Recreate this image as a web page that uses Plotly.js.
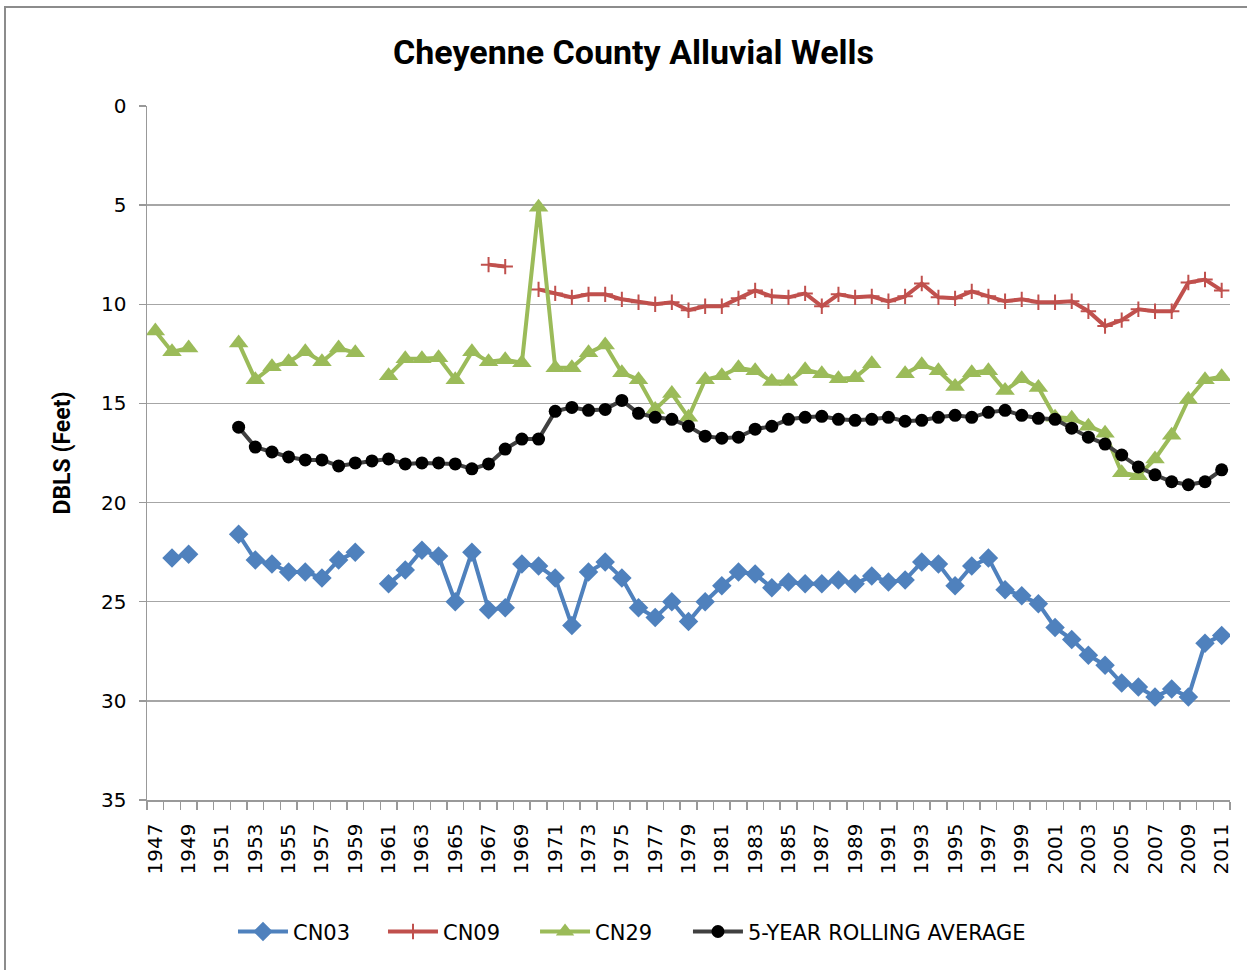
<!DOCTYPE html>
<html>
<head>
<meta charset="utf-8">
<script src="https://cdn.plot.ly/plotly-3.0.1.min.js"></script>
<style>
html,body{margin:0;padding:0;overflow:hidden;background:#fff;}
#wrap{position:relative;width:1247px;height:970px;}
#chart{position:absolute;left:0;top:0;width:1247px;height:970px;}
#frame{position:absolute;left:4px;top:6px;width:1270px;height:990px;border:2px solid #8c8c8c;pointer-events:none;}
</style>
</head>
<body>
<div id="wrap"><div id="chart"></div><div id="frame"></div></div>
<script>
const years = [1947,1948,1949,1950,1951,1952,1953,1954,1955,1956,1957,1958,1959,1960,1961,1962,1963,1964,1965,1966,1967,1968,1969,1970,1971,1972,1973,1974,1975,1976,1977,1978,1979,1980,1981,1982,1983,1984,1985,1986,1987,1988,1989,1990,1991,1992,1993,1994,1995,1996,1997,1998,1999,2000,2001,2002,2003,2004,2005,2006,2007,2008,2009,2010,2011];
const tickYears = [1947,1949,1951,1953,1955,1957,1959,1961,1963,1965,1967,1969,1971,1973,1975,1977,1979,1981,1983,1985,1987,1989,1991,1993,1995,1997,1999,2001,2003,2005,2007,2009,2011];

const cn03 = [null,22.8,22.6,null,null,21.6,22.9,23.1,23.5,23.5,23.8,22.9,22.5,null,24.1,23.4,22.4,22.7,25.0,22.5,25.4,25.3,23.1,23.2,23.8,26.2,23.5,23.0,23.8,25.3,25.8,25.0,26.0,25.0,24.2,23.5,23.6,24.3,24.0,24.1,24.1,23.9,24.1,23.7,24.0,23.9,23.0,23.1,24.2,23.2,22.8,24.4,24.7,25.1,26.3,26.9,27.7,28.2,29.1,29.3,29.8,29.4,29.8,27.1,26.7];

const cn09 = [null,null,null,null,null,null,null,null,null,null,null,null,null,null,null,null,null,null,null,null,8.0,8.1,null,9.25,9.45,9.65,9.5,9.5,9.75,9.9,10.0,9.9,10.3,10.1,10.1,9.7,9.3,9.6,9.65,9.45,10.1,9.5,9.65,9.6,9.85,9.6,8.95,9.65,9.7,9.35,9.6,9.85,9.75,9.9,9.9,9.85,10.35,11.1,10.8,10.25,10.35,10.35,8.9,8.75,9.3];

const cn29 = [11.35,12.4,12.2,null,null,11.95,13.8,13.15,12.9,12.4,12.9,12.2,12.45,null,13.6,12.75,12.75,12.7,13.8,12.4,12.9,12.8,12.95,5.1,13.2,13.2,12.45,12.05,13.45,13.8,15.3,14.5,15.7,13.8,13.6,13.2,13.35,13.9,13.9,13.3,13.5,13.75,13.7,13.0,null,13.5,13.05,13.35,14.15,13.45,13.35,14.35,13.75,14.2,15.7,15.75,16.15,16.5,18.5,18.65,17.8,16.6,14.8,13.8,13.65];

const rolling = [null,null,null,null,null,16.2,17.2,17.45,17.7,17.85,17.85,18.15,18.0,17.9,17.8,18.05,18.0,18.0,18.05,18.3,18.05,17.3,16.8,16.8,15.4,15.2,15.35,15.3,14.85,15.5,15.7,15.8,16.15,16.65,16.75,16.7,16.3,16.15,15.8,15.7,15.65,15.8,15.85,15.8,15.7,15.9,15.85,15.7,15.6,15.7,15.45,15.35,15.6,15.75,15.8,16.25,16.7,17.05,17.6,18.2,18.6,18.95,19.1,18.95,18.35];

const seriesNames = ["CN03","CN09","CN29","5-YEAR ROLLING AVERAGE"];

const traces = [
  {x: years, y: cn03, name: seriesNames[0], legend: 'legend', type: 'scatter', mode: 'lines+markers', connectgaps: false,
   line: {color: '#4F81BD', width: 4}, marker: {symbol: 'diamond', size: 15, color: '#4F81BD'}},
  {x: years, y: cn09, name: seriesNames[1], legend: 'legend2', type: 'scatter', mode: 'lines+markers', connectgaps: false,
   line: {color: '#C0504D', width: 4}, marker: {symbol: 'cross-thin', size: 11, color: '#C0504D', line: {color: '#C0504D', width: 2}}},
  {x: years, y: cn29, name: seriesNames[2], legend: 'legend3', type: 'scatter', mode: 'lines+markers', connectgaps: false,
   line: {color: '#9BBB59', width: 4}, marker: {symbol: 'triangle-up', size: 17, color: '#9BBB59'}},
  {x: years, y: rolling, name: seriesNames[3], legend: 'legend4', type: 'scatter', mode: 'lines+markers', connectgaps: false,
   line: {color: '#404040', width: 4}, marker: {symbol: 'circle', size: 13, color: '#000000'}}
];

function legendAt(x) {
  return {orientation: 'h', x: x, xanchor: 'left', y: -0.19, yanchor: 'middle',
          font: {family: 'DejaVu Sans, sans-serif', size: 21}, itemwidth: 50, bgcolor: 'rgba(0,0,0,0)'};
}

const layout = {
  width: 1247, height: 970,
  margin: {l: 147, r: 17, t: 106, b: 170},
  paper_bgcolor: '#ffffff', plot_bgcolor: '#ffffff',
  font: {family: 'DejaVu Sans, sans-serif', size: 20, color: '#000'},
  title: {text: '<b>Cheyenne County Alluvial Wells</b>', x: 0.508, xref: 'container', xanchor: 'center',
          y: 0.946, yref: 'container', yanchor: 'middle',
          font: {family: 'Liberation Sans Narrow, Roboto, sans-serif', size: 34, color: '#000'}},
  xaxis: {
    range: [1946.5, 2011.5], tickmode: 'array', tickvals: tickYears, ticktext: tickYears.map(String),
    tickangle: -90, ticks: '', showgrid: false, zeroline: false,
    showline: true, linecolor: '#999', linewidth: 1.5,
    ticklabelstandoff: 14,
    tickfont: {family: 'DejaVu Sans, sans-serif', size: 20},
    minor: {tick0: 1946.5, dtick: 1, ticks: 'outside', ticklen: 8, tickcolor: '#999', tickwidth: 1.5, showgrid: false}
  },
  yaxis: {
    range: [35, 0], dtick: 5, tick0: 0, ticks: 'outside', ticklen: 7, tickcolor: '#999', tickwidth: 1.5,
    showgrid: true, gridcolor: '#a6a6a6', gridwidth: 1.5, zeroline: false,
    showline: true, linecolor: '#999', linewidth: 1.5,
    ticklabelstandoff: 8,
    tickfont: {family: 'DejaVu Sans, sans-serif', size: 20},
    title: {text: '<b>DBLS (Feet)</b>', standoff: 24, font: {family: 'Liberation Sans Narrow, Roboto, sans-serif', size: 23}}
  },
  showlegend: true,
  legend: legendAt(0.0794),
  legend2: legendAt(0.2179),
  legend3: legendAt(0.3583),
  legend4: legendAt(0.4995)
};

Plotly.newPlot('chart', traces, layout, {displayModeBar: false, staticPlot: true});
</script>
</body>
</html>
